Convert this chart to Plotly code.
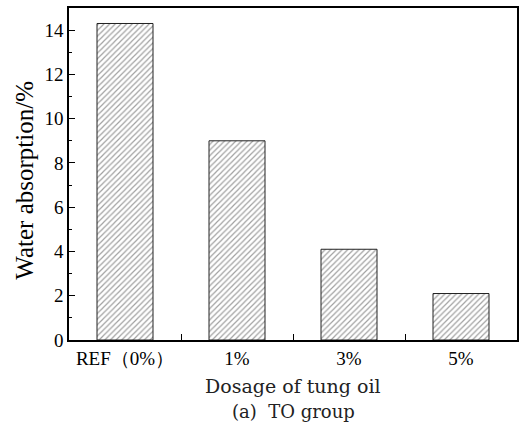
import plotly.graph_objects as go

categories = ["REF（0%）", "1%", "3%", "5%"]
water_absorption = [14.3, 9.0, 4.1, 2.1]
y_ticks = [0, 2, 4, 6, 8, 10, 12, 14]

fig = go.Figure()
fig.add_trace(go.Bar(
    x=categories, y=water_absorption, width=0.5,
    marker=dict(color="white", line=dict(color="#222222", width=1),
                pattern=dict(shape="/", fgcolor="#444444", bgcolor="white",
                             size=4, solidity=0.3)),
))
serif = "Liberation Serif, Times New Roman, serif"
wide = "DejaVu Serif, serif"
fig.update_layout(
    width=527, height=424, margin=dict(l=69, r=10, t=6, b=84),
    paper_bgcolor="white", plot_bgcolor="white", showlegend=False,
    font=dict(family=serif, color="black"),
)
fig.update_xaxes(
    range=[-0.5, 3.5], tickson="boundaries", ticks="inside", ticklen=6,
    tickcolor="black", showline=True, linecolor="black", linewidth=1.5,
    mirror=True, showgrid=False, tickfont=dict(size=19, family=serif),
)
fig.update_yaxes(
    range=[0, 15], tickvals=y_ticks, ticks="inside", ticklen=6, tickcolor="black",
    showline=True, linecolor="black", linewidth=1.5, mirror=True, showgrid=False,
    zeroline=False, tickfont=dict(size=19, family=serif),
    minor=dict(dtick=1, tick0=1, ticks="inside", ticklen=3, tickcolor="black", showgrid=False),
)
fig.add_annotation(text="Water absorption/%", xref="paper", yref="paper",
                   x=0, xshift=-44, xanchor="center", y=0.48, yanchor="middle",
                   textangle=-90, showarrow=False,
                   font=dict(size=25, family=serif))
fig.add_annotation(text="Dosage of tung oil", xref="paper", yref="paper", x=0.5, y=0,
                   yshift=-46, yanchor="middle", showarrow=False,
                   font=dict(size=19, family=wide, color="#222222"))
fig.add_annotation(text="(a)  TO group", xref="paper", yref="paper", x=0.5, y=0,
                   yshift=-71, yanchor="middle", showarrow=False,
                   font=dict(size=18, family=wide, color="#222222"))
fig.write_html("out.html")
